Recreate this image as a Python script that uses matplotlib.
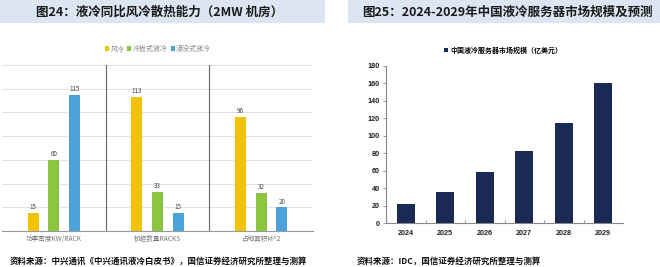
import matplotlib
matplotlib.use("Agg")
import matplotlib.pyplot as plt
from matplotlib.patches import Rectangle
import numpy as np

plt.rcParams['font.family'] = ['Noto Sans CJK SC', 'DejaVu Sans']

# ---- data ----
left_categories = ["功率密度KW/RACK", "机柜数量RACKS", "占地面积M^2"]
left_series = ["风冷", "冷板式液冷", "浸没式液冷"]
air_cooling = [15, 113, 96]
cold_plate = [60, 33, 32]
immersion = [115, 15, 20]
left_colors = ["#f2c200", "#8cc63e", "#4ea2dc"]

years = ["2024", "2025", "2026", "2027", "2028", "2029"]
market_size = [22, 36, 58, 82, 115, 161]
right_series = "中国液冷服务器市场规模（亿美元）"

left_title = "图24：液冷同比风冷散热能力（2MW 机房）"
right_title = "图25：2024-2029年中国液冷服务器市场规模及预测"
left_source = "资料来源：中兴通讯《中兴通讯液冷白皮书》，国信证券经济研究所整理与测算"
right_source = "资料来源：IDC，国信证券经济研究所整理与测算"

W, H = 660, 267
fig = plt.figure(figsize=(W / 100, H / 100), dpi=100)
fig.patch.set_facecolor("white")

def px(x0, y0, x1, y1):
    return [x0 / W, 1 - y1 / H, (x1 - x0) / W, (y1 - y0) / H]

# title bars
bar_color = "#dce6f2"
fig.patches.append(Rectangle((0, 1 - 23 / H), 325 / W, 23 / H, transform=fig.transFigure,
                             facecolor=bar_color, edgecolor="none", zorder=0))
fig.patches.append(Rectangle((348 / W, 1 - 23 / H), (660 - 348) / W, 23 / H, transform=fig.transFigure,
                             facecolor=bar_color, edgecolor="none", zorder=0))
fig.text(160 / W, 1 - 12 / H, left_title, ha="center", va="center", fontsize=9,
         fontweight="bold", color="#1a1a1a")
fig.text(507 / W, 1 - 12 / H, right_title, ha="center", va="center", fontsize=9,
         fontweight="bold", color="#1a1a1a")

# ---- left chart ----
ax1 = fig.add_axes(px(2, 65, 313, 231))
x = np.arange(len(left_categories))
w = 0.105
off = 0.2
series_vals = [air_cooling, cold_plate, immersion]
for i, (vals, col, name) in enumerate(zip(series_vals, left_colors, left_series)):
    bars = ax1.bar(x + (i - 1) * off, vals, width=w, color=col, label=name, zorder=3)
    for b, v in zip(bars, vals):
        ax1.text(b.get_x() + b.get_width() / 2, v + 1.5, str(v), ha="center", va="bottom",
                 fontsize=4.5, color="#444444", zorder=4)
ax1.set_xlim(-0.5, 2.5)
ax1.set_ylim(0, 140)
ax1.set_yticks(np.arange(0, 141, 20))
ax1.yaxis.grid(True, color="#dddddd", linewidth=0.6, zorder=0)
ax1.set_yticklabels([])
ax1.tick_params(axis="y", length=0)
ax1.set_xticks(x)
ax1.set_xticklabels(left_categories, fontsize=4.8, color="#777777")
ax1.tick_params(axis="x", length=0, pad=3)
for s in ["top", "right", "left"]:
    ax1.spines[s].set_visible(False)
ax1.spines["bottom"].set_color("#999999")
ax1.spines["bottom"].set_linewidth(0.8)
for sep in [0.5, 1.5]:
    ax1.axvline(sep, color="#666666", linewidth=0.8, zorder=2)
ax1.legend(loc="center", bbox_to_anchor=(158 / W, 1 - 49 / H), bbox_transform=fig.transFigure,
           ncol=3, frameon=False, fontsize=5, handlelength=0.6, handleheight=0.6,
           handletextpad=0.2, columnspacing=0.4, labelcolor="#888888")

fig.text(10 / W, 1 - 261 / H, left_source, ha="left", va="center", fontsize=6.1,
         fontweight="bold", color="#111111")

# ---- right chart ----
ax2 = fig.add_axes(px(386, 66, 623, 223))
xr = np.arange(len(years))
ax2.bar(xr, market_size, width=0.46, color="#1b2a55", label=right_series, zorder=3)
ax2.set_xlim(-0.5, len(years) - 0.5)
ax2.set_ylim(0, 180)
ax2.set_yticks(np.arange(0, 181, 20))
ax2.set_xticks(xr)
ax2.set_xticklabels(years)
for lab in ax2.get_xticklabels() + ax2.get_yticklabels():
    lab.set_fontfamily(["Liberation Sans", "DejaVu Sans"])
    lab.set_fontweight("bold")
    lab.set_fontsize(5.2)
    lab.set_color("#222222")
ax2.tick_params(axis="y", direction="out", length=2.5, width=0.6, color="#888888", pad=2)
ax2.tick_params(axis="x", length=0, pad=5)
ax2.set_xticks(np.arange(0.5, len(years) - 0.5, 1), minor=True)
ax2.tick_params(axis="x", which="minor", direction="in", length=2.5, width=0.6, color="#888888")
for s in ["top", "right"]:
    ax2.spines[s].set_visible(False)
for s in ["left", "bottom"]:
    ax2.spines[s].set_color("#888888")
    ax2.spines[s].set_linewidth(0.8)
ax2.legend(loc="center", bbox_to_anchor=(503 / W, 1 - 50 / H), bbox_transform=fig.transFigure,
           frameon=False, fontsize=5, handlelength=0.6, handleheight=0.6, handletextpad=0.4,
           prop={"weight": "bold", "size": 5})

fig.text(357 / W, 1 - 261 / H, right_source, ha="left", va="center", fontsize=6.1,
         fontweight="bold", color="#111111")

fig.savefig("out.png", dpi=100, facecolor="white")
